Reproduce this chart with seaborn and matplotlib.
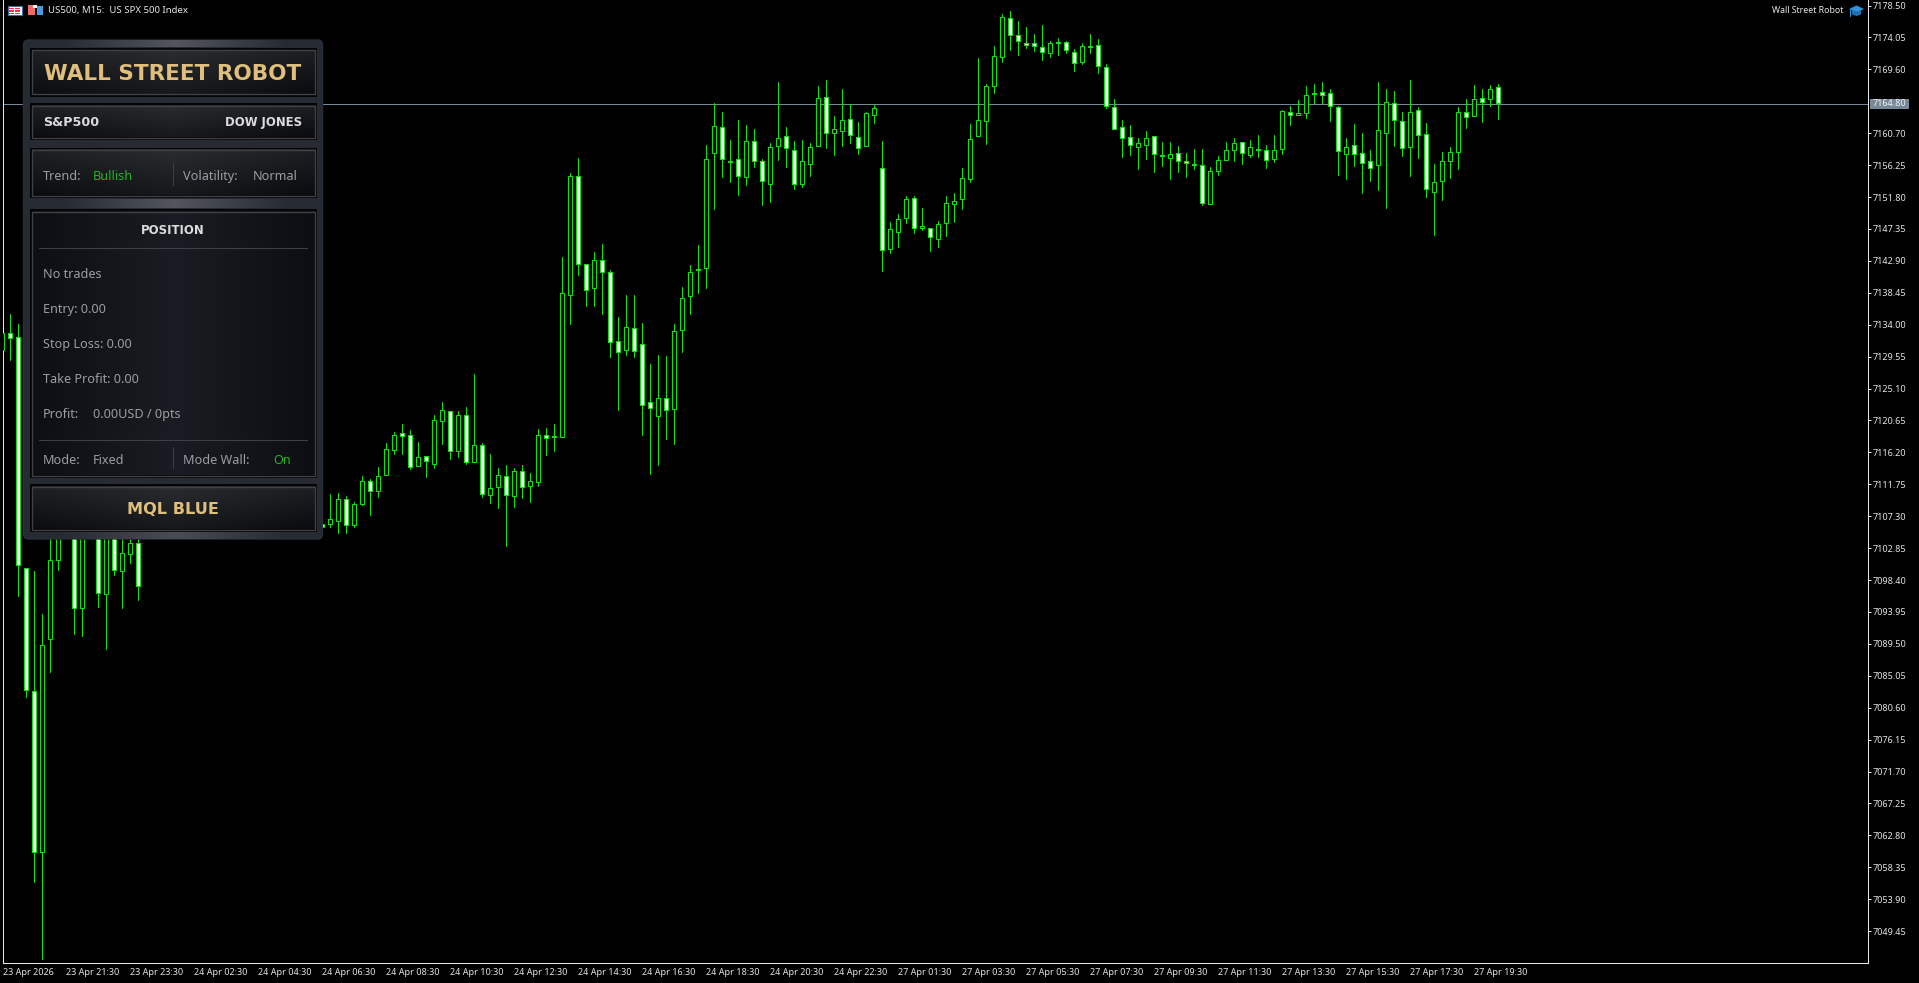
import numpy as np
import pandas as pd
import matplotlib
matplotlib.use("Agg")
import matplotlib.pyplot as plt
from matplotlib.patches import FancyBboxPatch, Rectangle, Polygon
import seaborn as sns

opens = [
    7130.44, 7132.82, 7132.26, 7100.03, 7082.88, 7060.42, 7090.13, 7101.15, 7106.73, 7106.03,
    7094.45, 7106.03, 7110.22, 7096.41, 7109.52, 7099.62, 7101.99, 7103.52, 7104.9, 7106.8,
    7105.9, 7108.4, 7107.3, 7109.1, 7108.2, 7109.9, 7111.5, 7110.2, 7109.0, 7107.8,
    7108.9, 7110.3, 7109.1, 7107.4, 7106.1, 7107.6, 7108.7, 7107.2, 7105.8, 7107.0,
    7106.17, 7106.17, 7106.59, 7109.66, 7106.03, 7108.96, 7112.17, 7110.78, 7113.01, 7116.49,
    7118.87, 7118.59, 7114.26, 7115.66, 7114.54, 7120.54, 7121.94, 7116.36, 7121.38, 7114.82,
    7117.19, 7110.22, 7111.33, 7112.87, 7110.08, 7113.57, 7111.47, 7112.03, 7118.59, 7118.45,
    7118.31, 7138.12, 7154.72, 7142.44, 7139.09, 7143.00, 7141.33, 7131.70, 7130.44, 7133.51,
    7131.28, 7123.19, 7121.24, 7123.75, 7122.21, 7133.23, 7137.98, 7141.74, 7141.95, 7157.93,
    7161.55, 7156.81, 7157.09, 7154.58, 7159.60, 7156.81, 7153.60, 7158.90, 7160.30, 7158.34,
    7153.60, 7156.39, 7158.90, 7165.74, 7160.72, 7161.00, 7162.67, 7160.16, 7158.90, 7163.23,
    7155.83, 7144.53, 7146.91, 7148.86, 7151.65, 7147.46, 7147.46, 7145.93, 7148.16, 7150.81,
    7151.51, 7154.30, 7160.30, 7162.39, 7167.27, 7171.32, 7176.76, 7174.39, 7173.27, 7173.27,
    7172.71, 7171.88, 7173.41, 7173.41, 7172.02, 7170.62, 7172.85, 7172.99, 7169.92, 7164.34,
    7161.55, 7160.16, 7158.76, 7159.04, 7160.30, 7157.65, 7157.23, 7157.93, 7156.81, 7156.39,
    7156.25, 7150.81, 7155.42, 7156.95, 7158.34, 7159.46, 7157.65, 7158.48, 7158.34, 7157.09,
    7158.48, 7163.65, 7163.23, 7163.51, 7166.30, 7166.44, 7166.30, 7164.34, 7157.79, 7159.04,
    7157.93, 7156.81, 7156.25, 7160.72, 7164.90, 7162.39, 7158.76, 7163.92, 7160.58, 7152.49,
    7154.02, 7156.81, 7158.07, 7163.65, 7163.09, 7165.60, 7165.46, 7167.13,
]
highs = [
    7134.07, 7135.47, 7134.07, 7100.03, 7099.62, 7093.62, 7106.73, 7109.52, 7112.31, 7108.13,
    7109.52, 7113.70, 7112.31, 7110.91, 7112.31, 7105.33, 7106.03, 7105.33, 7107.5, 7108.6,
    7109.2, 7110.0, 7109.8, 7111.2, 7110.4, 7112.3, 7113.0, 7111.9, 7110.7, 7109.5,
    7111.0, 7111.8, 7110.2, 7108.8, 7108.3, 7109.4, 7109.9, 7108.5, 7107.9, 7108.2,
    7106.2, 7110.36, 7110.50, 7110.08, 7109.24, 7112.87, 7112.45, 7114.12, 7117.47, 7119.01,
    7120.12, 7119.28, 7117.61, 7115.66, 7121.38, 7123.19, 7121.94, 7121.94, 7122.49, 7127.10,
    7117.47, 7115.94, 7113.98, 7114.40, 7113.98, 7114.40, 7113.29, 7119.42, 7119.56, 7120.12,
    7143.42, 7155.14, 7157.23, 7142.44, 7144.12, 7145.23, 7141.60, 7135.05, 7138.12, 7138.12,
    7134.21, 7128.49, 7129.75, 7129.61, 7134.07, 7139.23, 7142.30, 7145.09, 7159.04, 7164.90,
    7163.65, 7159.74, 7162.53, 7161.83, 7161.27, 7157.09, 7159.32, 7167.83, 7161.55, 7159.60,
    7159.74, 7159.32, 7167.27, 7168.11, 7163.09, 7166.85, 7164.76, 7162.25, 7163.65, 7164.62,
    7159.60, 7148.30, 7149.42, 7151.93, 7151.93, 7150.25, 7147.46, 7148.44, 7151.93, 7152.35,
    7155.83, 7161.97, 7171.18, 7167.55, 7172.85, 7177.32, 7177.74, 7176.34, 7175.50, 7174.53,
    7175.78, 7173.55, 7173.97, 7173.55, 7172.43, 7173.27, 7174.53, 7173.83, 7170.34, 7165.46,
    7162.53, 7161.83, 7160.02, 7161.00, 7160.30, 7159.46, 7159.46, 7158.90, 7157.93, 7158.48,
    7158.48, 7155.97, 7157.51, 7159.46, 7160.02, 7159.46, 7159.74, 7160.44, 7159.04, 7160.44,
    7163.92, 7164.48, 7165.32, 7167.27, 7167.55, 7167.83, 7166.85, 7164.48, 7160.02, 7161.97,
    7160.72, 7158.34, 7167.83, 7166.85, 7166.58, 7163.65, 7168.11, 7164.34, 7162.11, 7156.39,
    7158.07, 7158.76, 7164.34, 7165.46, 7167.41, 7166.85, 7167.41, 7167.55,
]
lows = [
    7129.75, 7129.05, 7096.13, 7082.04, 7056.37, 7045.63, 7085.53, 7099.77, 7105.33, 7090.83,
    7090.55, 7104.64, 7094.59, 7088.73, 7099.06, 7094.45, 7100.73, 7095.57, 7104.4, 7105.6,
    7105.2, 7106.9, 7106.5, 7107.8, 7107.1, 7108.9, 7109.6, 7108.5, 7107.2, 7106.3,
    7107.9, 7108.7, 7106.9, 7105.5, 7105.0, 7106.4, 7106.6, 7105.3, 7105.0, 7105.4,
    7105.6, 7105.75, 7104.92, 7104.92, 7105.75, 7108.82, 7107.43, 7109.94, 7113.01, 7115.94,
    7115.94, 7113.84, 7114.26, 7112.73, 7113.98, 7117.33, 7115.24, 7115.52, 7114.54, 7114.82,
    7109.94, 7109.10, 7108.40, 7103.10, 7108.54, 7109.80, 7109.24, 7111.47, 7115.80, 7116.36,
    7118.31, 7134.07, 7140.91, 7136.58, 7136.58, 7135.47, 7129.47, 7122.07, 7129.75, 7129.47,
    7118.59, 7113.15, 7114.40, 7118.03, 7117.33, 7130.17, 7135.47, 7138.40, 7139.09, 7150.11,
    7154.58, 7153.88, 7152.07, 7153.46, 7155.97, 7150.67, 7151.09, 7156.95, 7155.97, 7152.90,
    7153.18, 7154.72, 7158.90, 7158.62, 7157.65, 7158.90, 7159.32, 7157.79, 7158.90, 7162.11,
    7141.47, 7143.98, 7144.81, 7148.16, 7146.77, 7147.18, 7144.26, 7144.81, 7146.35, 7148.30,
    7150.11, 7153.88, 7160.30, 7159.18, 7166.30, 7170.62, 7172.29, 7171.60, 7172.57, 7172.16,
    7170.90, 7171.32, 7171.60, 7171.88, 7169.37, 7170.34, 7171.88, 7169.09, 7164.20, 7161.27,
    7157.37, 7157.65, 7155.69, 7157.09, 7155.28, 7156.11, 7154.30, 7155.28, 7154.58, 7155.69,
    7150.67, 7150.81, 7154.86, 7156.95, 7156.81, 7156.39, 7157.37, 7157.37, 7155.83, 7156.67,
    7157.79, 7161.83, 7163.23, 7162.81, 7164.90, 7164.90, 7162.39, 7154.86, 7154.30, 7156.11,
    7152.35, 7154.02, 7152.77, 7150.25, 7158.90, 7157.51, 7154.72, 7157.23, 7151.79, 7146.49,
    7151.37, 7154.44, 7155.69, 7161.41, 7163.09, 7162.25, 7164.48, 7162.67,
]
closes = [
    7132.82, 7132.12, 7100.45, 7083.01, 7060.42, 7089.29, 7101.15, 7106.73, 7110.22, 7094.45,
    7105.33, 7110.91, 7096.55, 7108.13, 7099.77, 7102.13, 7103.52, 7097.52, 7106.8, 7105.9,
    7108.4, 7107.3, 7109.1, 7108.2, 7109.9, 7111.5, 7110.2, 7109.0, 7107.8, 7108.9,
    7110.3, 7109.1, 7107.4, 7106.1, 7107.6, 7108.7, 7107.2, 7105.8, 7107.0, 7106.3,
    7105.75, 7106.87, 7109.66, 7106.03, 7108.96, 7112.17, 7110.78, 7112.87, 7116.63, 7118.59,
    7118.45, 7114.12, 7115.52, 7114.96, 7120.68, 7122.07, 7116.36, 7121.38, 7114.82, 7117.19,
    7110.36, 7111.19, 7113.01, 7110.22, 7113.57, 7111.33, 7112.17, 7118.59, 7118.17, 7118.40,
    7138.40, 7154.72, 7142.44, 7138.81, 7143.00, 7141.33, 7131.56, 7130.17, 7133.65, 7130.31,
    7122.77, 7122.35, 7123.75, 7122.07, 7133.10, 7137.70, 7141.33, 7141.60, 7157.09, 7161.69,
    7157.09, 7156.67, 7154.72, 7159.60, 7156.81, 7154.02, 7158.76, 7160.02, 7158.62, 7153.60,
    7156.81, 7158.76, 7165.60, 7160.72, 7161.27, 7162.53, 7160.44, 7158.62, 7163.51, 7164.20,
    7144.39, 7147.32, 7148.72, 7151.51, 7147.46, 7147.74, 7146.21, 7148.02, 7150.95, 7151.23,
    7154.44, 7159.88, 7162.53, 7167.27, 7171.46, 7176.90, 7174.39, 7173.55, 7172.99, 7172.85,
    7172.02, 7173.27, 7173.27, 7172.29, 7170.48, 7172.85, 7172.71, 7170.06, 7164.48, 7161.27,
    7160.02, 7159.04, 7159.32, 7160.02, 7157.79, 7157.51, 7157.79, 7156.81, 7156.53, 7156.25,
    7150.95, 7155.42, 7156.95, 7158.34, 7159.32, 7157.93, 7158.76, 7158.34, 7156.95, 7158.34,
    7163.79, 7163.23, 7163.51, 7166.02, 7166.16, 7166.02, 7164.48, 7158.21, 7158.76, 7157.79,
    7156.53, 7155.83, 7161.13, 7165.04, 7162.53, 7158.62, 7163.65, 7160.44, 7152.90, 7153.88,
    7156.81, 7158.07, 7163.65, 7162.95, 7165.46, 7165.04, 7166.85, 7164.90,
]

last_price = 7164.80
price_ticks = [7178.50, 7174.05, 7169.60, 7160.70, 7156.25, 7151.80, 7147.35, 7142.90, 7138.45,
               7134.00, 7129.55, 7125.10, 7120.65, 7116.20, 7111.75, 7107.30, 7102.85, 7098.40,
               7093.95, 7089.50, 7085.05, 7080.60, 7076.15, 7071.70, 7067.25, 7062.80, 7058.35,
               7053.90, 7049.45]
time_labels = ["23 Apr 2026", "23 Apr 21:30", "23 Apr 23:30", "24 Apr 02:30", "24 Apr 04:30",
               "24 Apr 06:30", "24 Apr 08:30", "24 Apr 10:30", "24 Apr 12:30", "24 Apr 14:30",
               "24 Apr 16:30", "24 Apr 18:30", "24 Apr 20:30", "24 Apr 22:30", "27 Apr 01:30",
               "27 Apr 03:30", "27 Apr 05:30", "27 Apr 07:30", "27 Apr 09:30", "27 Apr 11:30",
               "27 Apr 13:30", "27 Apr 15:30", "27 Apr 17:30", "27 Apr 19:30"]

GREEN = "#00ee00"
SLATE = "#778899"
GREY = "#9a9da2"
GOLD = "#e0bf7c"
FONT = "Noto Sans"
ONE_PX = 0.72

sns.set_theme(style="dark", rc={"figure.facecolor": "black", "axes.facecolor": "black",
                                "axes.edgecolor": "#e8e8e8", "xtick.color": "#e8e8e8",
                                "ytick.color": "#e8e8e8", "axes.grid": False})
plt.rcParams["font.family"] = [FONT, "DejaVu Sans"]

W, H = 1919, 983
fig = plt.figure(figsize=(W / 100, H / 100), dpi=100)
ax = fig.add_axes([2.5 / W, (H - 963.3) / H, 1865 / W, 963.3 / H])

df = pd.DataFrame({"bar": np.arange(len(opens)), "open": opens, "high": highs,
                   "low": lows, "close": closes})
wicks = df.melt(id_vars="bar", value_vars=["low", "high"], value_name="price").sort_values("bar")

ax.axhline(last_price, color=SLATE, lw=ONE_PX, zorder=1)
sns.lineplot(data=wicks, x="bar", y="price", units="bar", estimator=None, sort=False,
             color=GREEN, lw=ONE_PX, legend=False, ax=ax, zorder=2)
tops = df[["open", "close"]].max(axis=1)
bottoms = df[["open", "close"]].min(axis=1)
faces = np.where(df["open"] > df["close"], "white", "black")
ax.bar(df["bar"], tops - bottoms, bottom=bottoms, width=0.5, color=faces, edgecolor=GREEN,
       linewidth=ONE_PX, zorder=3)

ax.set_xlim(0.02, 233.15)
ax.set_ylim(7044.97, 7179.27)
ax.set_xlabel("")
ax.set_ylabel("")
ax.yaxis.tick_right()
ax.set_yticks(price_ticks, [f"{p:.2f}" for p in price_ticks])
ax.set_xticks(np.arange(len(time_labels)) * 8, time_labels)
ax.tick_params(axis="y", length=2.5, width=ONE_PX, pad=1, labelsize=6.5, labelcolor="#e4e4e4")
ax.tick_params(axis="x", length=3, width=ONE_PX, pad=0.5, labelsize=6.5, labelcolor="#e4e4e4")
for t in ax.get_xticklabels():
    t.set_ha("left")
sns.despine(ax=ax, top=True, left=False, right=False, bottom=False)
for s in ax.spines.values():
    s.set_linewidth(ONE_PX)

# overlay in pixel coordinates for the panel, the icons and the price label
ov = fig.add_axes([0, 0, 1, 1], zorder=5)
ov.set_xlim(0, W)
ov.set_ylim(H, 0)
ov.axis("off")
ov.patch.set_visible(False)
ov.set_autoscale_on(False)


def gradient(x0, y0, x1, y1, left, mid, right, top_glow=0.0, z=2):
    cols = np.array([matplotlib.colors.to_rgb(c) for c in (left, mid, right)])
    xs = np.linspace(0, 2, 80)
    row = np.stack([np.interp(xs, [0, 1, 2], cols[:, k]) for k in range(3)], axis=1)
    img = np.repeat(row[None, :, :], 40, axis=0)
    glow = np.linspace(top_glow, -top_glow / 2, 40)[:, None, None]
    img = np.clip(img + glow, 0, 1)
    ov.imshow(img, extent=(x0, x1, y1, y0), aspect="auto", zorder=z, interpolation="bilinear")


def block(y0, y1, left="#121317", mid="#1d1f23", right="#111216", glow=0.05):
    ov.add_patch(Rectangle((29.5, y0), 287.5, y1 - y0, fc="#050506", ec="none", zorder=2))
    gradient(31.5, y0 + 2.5, 315, y1 - 2.5, left, mid, right, glow, z=3)
    ov.add_patch(Rectangle((31.5, y0 + 2.5), 283.5, y1 - y0 - 5, fc="none", ec="#3e4146",
                           lw=1.0, zorder=4))


def label(x, y, s, color=GREY, size=9.1, **kw):
    kw.setdefault("family", [FONT, "DejaVu Sans"])
    ov.text(x, y, s, color=color, fontsize=size, va="center", zorder=6, **kw)


ov.add_patch(FancyBboxPatch((26, 42.5), 294, 494, boxstyle="round,pad=2.5,rounding_size=5",
                            fc="#262a32", ec="#2b2f38", lw=1, zorder=1))
gradient(60, 40, 290, 47, "#262a32", "#53565d", "#262a32", z=1.5)
gradient(60, 199, 290, 208, "#262a32", "#53565d", "#262a32", z=1.5)
gradient(60, 532, 290, 539, "#262a32", "#4a4d55", "#262a32", z=1.5)

block(47.5, 96.5)
block(103, 140)
block(147.5, 198)
block(209, 478, left="#0e0f13", mid="#191c22", right="#0d0e12", glow=0.0)
block(484, 532)

label(173, 74, "WALL STREET ROBOT", color=GOLD, size=15.5, family="DejaVu Sans",
      weight="bold", ha="center")
label(43, 122.5, "S&P500", color="#dcdcdc", size=9.2, family="DejaVu Sans", weight="bold")
label(302, 122.5, "DOW JONES", color="#dcdcdc", size=8.4, family="DejaVu Sans", weight="bold",
      ha="right")
label(43, 176.5, "Trend:")
label(93, 176.5, "Bullish", color="#22b522")
label(183, 176.5, "Volatility:")
label(253, 176.5, "Normal")
label(173, 230, "POSITION", color="#dcdcdc", size=8.4, family="DejaVu Sans", weight="bold",
      ha="center")
ov.plot([39, 307], [248, 248], color="#3c3f46", lw=0.8, zorder=5)
label(43, 274.5, "No trades")
label(43, 309.5, "Entry: 0.00")
label(43, 344.5, "Stop Loss: 0.00")
label(43, 379.5, "Take Profit: 0.00")
label(43, 414.5, "Profit:")
label(93, 414.5, "0.00USD / 0pts")
ov.plot([39, 307], [440, 440], color="#3c3f46", lw=0.8, zorder=5)
label(43, 461, "Mode:")
label(93, 461, "Fixed")
label(183, 461, "Mode Wall:")
label(273, 461, "On", color="#22b522")
label(173, 509, "MQL BLUE", color=GOLD, size=11.6, family="DejaVu Sans", weight="bold", ha="center")
ov.plot([172.7, 172.7], [163, 185], color="#3a3d44", lw=0.8, zorder=5)
ov.plot([172.7, 172.7], [447, 468], color="#3a3d44", lw=0.8, zorder=5)

# top left symbol text and icons
ov.add_patch(Rectangle((7.5, 5.5), 14, 9.5, fc="white", ec="#2f6fb0", lw=0.8, zorder=6))
for yy in (7.5, 10, 12.5):
    ov.add_patch(Rectangle((9, yy), 4.5, 1.5, fc="#e04040", ec="none", zorder=7))
    ov.add_patch(Rectangle((15, yy), 5, 1.5, fc="#e04040", ec="none", zorder=7))
ov.add_patch(Rectangle((28, 5), 6.5, 10, fc="#f06a6a", ec="none", zorder=6))
ov.add_patch(Rectangle((36.5, 6), 6.5, 9, fc="#4c9be0", ec="none", zorder=6))
ov.add_patch(Rectangle((32.5, 4.5), 4.5, 3, fc="white", ec="none", zorder=7))
label(48.5, 10, "US500, M15:  US SPX 500 Index", color="#e6e6e6", size=6.9)

# top right expert name and cap
label(1771.5, 10.5, "Wall Street Robot", color="#e6e6e6", size=6.3)
ov.add_patch(Polygon([(1849, 9), (1856.5, 5.5), (1864, 9), (1856.5, 12.5)], fc="#2f95e0",
                     ec="none", zorder=6))
ov.add_patch(Polygon([(1852, 11), (1861, 11), (1861, 14.5), (1856.5, 16), (1852, 14.5)],
                     fc="#1f6fb5", ec="none", zorder=6))
ov.plot([1850, 1850], [9.5, 15.5], color="#2f95e0", lw=0.8, zorder=6)

# last price box on the axis
ov.add_patch(Rectangle((1870, 98.5), 39, 10.5, fc=SLATE, ec="none", zorder=6))
label(1872.7, 103.7, f"{last_price:.2f}", color="#f2f2f2", size=6.5)

fig.savefig("out.png", dpi=100, facecolor="black")
